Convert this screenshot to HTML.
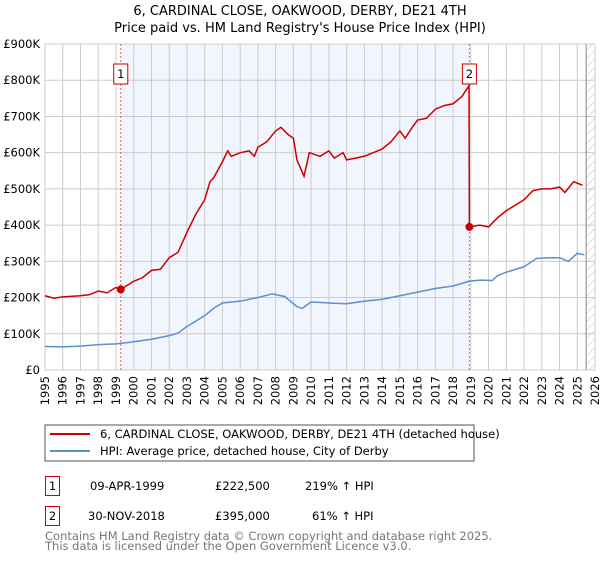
<!DOCTYPE html>
<html><head><meta charset="utf-8"><style>
body{margin:0;background:#fff;font-family:"Liberation Sans","DejaVu Sans",sans-serif;}
svg text{font-family:"DejaVu Sans","Liberation Sans",sans-serif;}
</style></head><body>
<svg id="c" width="600" height="560" viewBox="0 0 600 560" xmlns="http://www.w3.org/2000/svg">
<defs><pattern id="hatch" width="6" height="6" patternUnits="userSpaceOnUse" patternTransform="rotate(45)"><line x1="0" y1="0" x2="0" y2="6" stroke="#bbb" stroke-width="1"/></pattern></defs>
<text x="300" y="15" text-anchor="middle" font-size="13">6, CARDINAL CLOSE, OAKWOOD, DERBY, DE21 4TH</text>
<text x="300" y="32" text-anchor="middle" font-size="13">Price paid vs. HM Land Registry's House Price Index (HPI)</text>
<g id="plot"></g>
<rect x="45" y="425" width="429" height="36" fill="#fff" stroke="#555"/>
<line x1="50" y1="434" x2="90" y2="434" stroke="#cc0000" stroke-width="2"/>
<text x="100" y="438" font-size="11.5">6, CARDINAL CLOSE, OAKWOOD, DERBY, DE21 4TH (detached house)</text>
<line x1="50" y1="451" x2="90" y2="451" stroke="#5b8fd4" stroke-width="2"/>
<text x="100" y="455" font-size="11.5">HPI: Average price, detached house, City of Derby</text>
<g font-size="11.5">
<rect x="45.5" y="476.5" width="14" height="19" fill="none" stroke="#cc0000"/>
<text x="52.5" y="490" text-anchor="middle">1</text>
<text x="90" y="490">09-APR-1999</text>
<text x="215" y="490">£222,500</text>
<text x="305" y="490">219% ↑ HPI</text>
<rect x="45.5" y="506.5" width="14" height="19" fill="none" stroke="#cc0000"/>
<text x="52.5" y="520" text-anchor="middle">2</text>
<text x="88" y="520">30-NOV-2018</text>
<text x="215" y="520">£395,000</text>
<text x="312" y="520">61% ↑ HPI</text>
</g>
<text x="45" y="540" font-size="11.5" fill="#777">Contains HM Land Registry data © Crown copyright and database right 2025.</text>
<text x="45" y="550" font-size="11.5" fill="#777">This data is licensed under the Open Government Licence v3.0.</text>
</svg>
<script>
const redYears=[1995,1995.5,1996,1997,1997.5,1998,1998.5,1999,1999.27,2000,2000.5,2001,2001.5,2002,2002.5,2003,2003.5,2004,2004.3,2004.5,2005,2005.3,2005.5,2006,2006.5,2006.8,2007,2007.5,2008,2008.3,2008.7,2009,2009.2,2009.6,2009.9,2010.5,2011,2011.3,2011.8,2012,2012.5,2013,2013.5,2014,2014.5,2015,2015.3,2015.7,2016,2016.5,2017,2017.5,2018,2018.5,2018.9,2018.92,2019.5,2020,2020.5,2021,2021.5,2022,2022.5,2023,2023.5,2024,2024.3,2024.8,2025.3];
const redValues=[205,198,202,205,208,218,213,228,222.5,245,255,275,278,310,325,380,430,470,520,530,575,605,590,600,605,590,615,630,660,670,650,640,580,535,600,590,605,585,600,580,585,590,600,610,630,660,640,670,690,695,720,730,735,755,785,395,400,395,420,440,455,470,495,500,500,505,490,520,510];
const hpiYears=[1995,1996,1997,1998,1999,2000,2001,2002,2002.5,2003,2003.5,2004,2004.5,2005,2006,2007,2007.8,2008.5,2009.2,2009.5,2010,2011,2012,2013,2014,2015,2016,2017,2018,2018.9,2019.5,2020.2,2020.5,2021,2022,2022.7,2023.5,2024,2024.5,2025,2025.4];
const hpiValues=[65,64,66,70,72,78,85,95,102,120,135,150,170,185,190,200,210,203,175,170,188,185,183,190,195,205,215,225,232,245,248,247,260,270,285,308,310,310,300,322,318];
const yTicks=[0,100,200,300,400,500,600,700,800,900];
const yTickLabels=["£0","£100K","£200K","£300K","£400K","£500K","£600K","£700K","£800K","£900K"];
const xTicks=[1995,1996,1997,1998,1999,2000,2001,2002,2003,2004,2005,2006,2007,2008,2009,2010,2011,2012,2013,2014,2015,2016,2017,2018,2019,2020,2021,2022,2023,2024,2025,2026];
const saleYears=[1999.27,2018.92];
const saleValues=[222.5,395];
const saleLabels=["1","2"];
const L=45,R=595,T=44,B=370;
const X=y=>L+(y-1995)/(2026-1995)*(R-L);
const Y=v=>B-v/900*(B-T);
const NS="http://www.w3.org/2000/svg";
const g=document.getElementById('plot');
function mk(t,a,p){const e=document.createElementNS(NS,t);for(const k in a)e.setAttribute(k,a[k]);(p||g).appendChild(e);return e;}
let e;
e=mk('rect',{x:X(saleYears[0]),y:T,width:X(saleYears[1])-X(saleYears[0]),height:B-T,fill:'#eef3fc',opacity:0.8});


e=mk('rect',{x:X(2025.5),y:T,width:R-X(2025.5),height:B-T,fill:'url(#hatch)'});


yTicks.forEach((v,i)=>{
 e=mk('line',{x1:L,x2:R,y1:Y(v),y2:Y(v),stroke:'#ccc'});
 
 
 e=mk('text',{x:L-5,y:Y(v)+4,'text-anchor':'end','font-size':'11.5'});
 e.textContent=yTickLabels[i];
 
 
});
xTicks.forEach(yr=>{
 e=mk('line',{x1:X(yr),x2:X(yr),y1:T,y2:B,stroke:'#ccc'});
 
 
 e=mk('text',{x:0,y:0,'text-anchor':'end','font-size':'11.5',transform:`translate(${X(yr)+4},${B+6}) rotate(-90)`});
 e.textContent=yr;
 
 
});
e=mk('line',{x1:X(2025.5),x2:X(2025.5),y1:T,y2:B,stroke:'#888'});


e=mk('rect',{x:L,y:T,width:R-L,height:B-T,fill:'none',stroke:'#ccc'});


saleYears.forEach((yr,i)=>{
 e=mk('line',{x1:X(yr),x2:X(yr),y1:T,y2:B,stroke:'#e06060','stroke-dasharray':'2,2'});
 
 
});
e=mk('polyline',{points:hpiYears.map((y,i)=>X(y)+','+Y(hpiValues[i])).join(' '),fill:'none',stroke:'#5b8fd4','stroke-width':1.5});


e=mk('polyline',{points:redYears.map((y,i)=>X(y)+','+Y(redValues[i])).join(' '),fill:'none',stroke:'#cc0000','stroke-width':1.5});


saleYears.forEach((yr,i)=>{
 e=mk('circle',{cx:X(yr),cy:Y(saleValues[i]),r:4,fill:'#cc0000'});
 
 
 const bx=X(yr)-7;
 e=mk('rect',{x:bx,y:64,width:14,height:20,fill:'#fff',stroke:'#cc0000'});
 
 
 e=mk('text',{x:X(yr),y:78,'text-anchor':'middle','font-size':'11.5'});
 e.textContent=saleLabels[i];
 
 
});
</script>
</body></html>
